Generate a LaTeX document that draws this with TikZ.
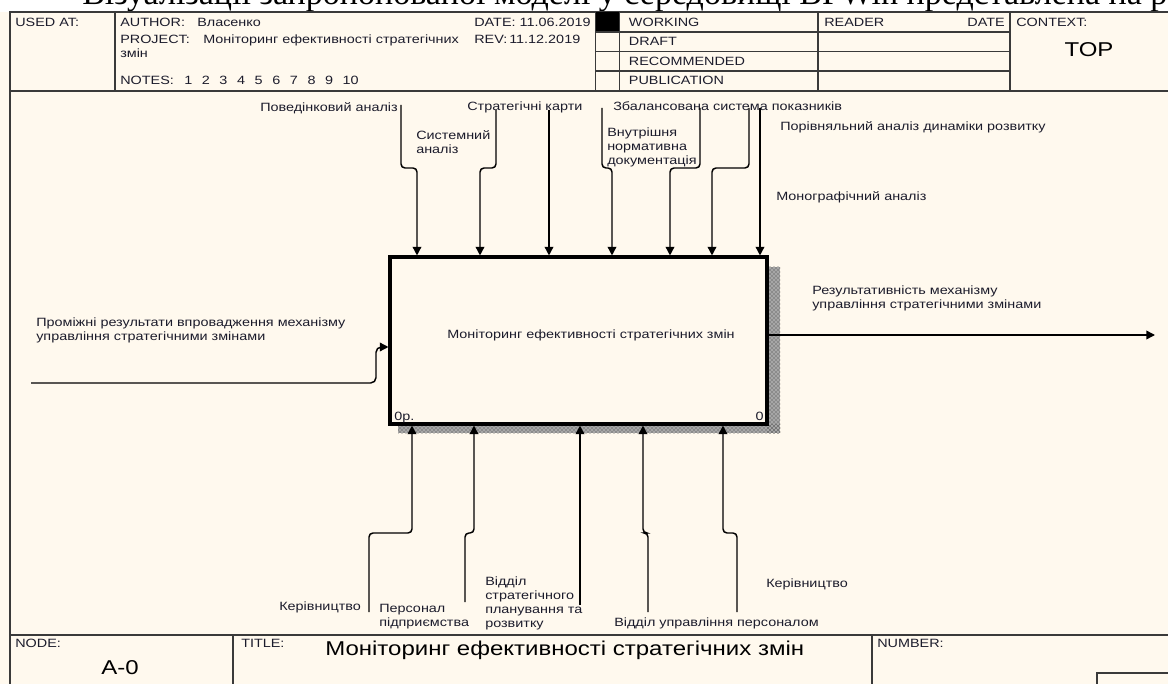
\documentclass[tikz,border=0pt]{standalone}
\usepackage{fontspec}
\setmainfont{Liberation Sans}
\newfontfamily\lbl[FakeStretch=1.2]{Liberation Sans}
\newfontfamily\docserif{Liberation Serif}
\usetikzlibrary{arrows.meta,patterns}
\definecolor{bgc}{HTML}{FFF9EE}
\definecolor{framec}{HTML}{3A3A3A}
\definecolor{inkc}{HTML}{1C1C2C}
\newcommand\numgap{\hspace{7.2pt}}
\begin{document}
\begin{tikzpicture}[x=0.75pt,y=-0.75pt,
  lab/.style={font=\lbl\fontsize{9}{10.5}\selectfont, text=inkc, inner sep=0pt, align=left},
  hdr/.style={font=\lbl\fontsize{9}{10.5}\selectfont, text=inkc, inner sep=0pt, anchor=base west},
  big/.style={font=\lbl\fontsize{15}{18}\selectfont, text=black, inner sep=0pt},
  frameline/.style={draw=framec, line width=1.2pt},
  arr/.style={draw=black, line width=1.1pt, rounded corners=3pt, -{Triangle[length=6.5pt,width=6.5pt]}},
  procbox/.style={draw=black, line width=2.3pt, fill=bgc, minimum width=282.75pt, minimum height=125.25pt, inner sep=0pt},
  shadowbase/.style={fill=black!35},
  shadowfill/.style={pattern=crosshatch dots, pattern color=black!80}
]
\useasboundingbox (0,0) rectangle (1168,684);
\fill[white] (0,0) rectangle (1168,12);
\fill[bgc] (0,12) rectangle (1168,684);
% cut-off document line above the diagram
\begin{scope}
  \clip (0,0) rectangle (1168,11);
  \node[anchor=base west, inner sep=0pt, font=\docserif\fontsize{25.5}{30}\selectfont] (doctext) at (82,5) {Візуалізації запропонованої моделі у середовищі BPWin представлена на р};
\end{scope}

% ---------- frame ----------
\draw[frameline] (1168,12) -- (10,12) -- (10,684);
\draw[frameline] (10,91) -- (1168,91);
\draw[frameline] (115,12) -- (115,91);
\draw[frameline] (595.5,12) -- (595.5,91);
\fill[black] (595.5,12) rectangle (619.5,32);
\draw[frameline] (619.5,12) -- (619.5,91);
\draw[frameline] (818,12) -- (818,91);
\draw[frameline] (1010,12) -- (1010,91);
\foreach \yy in {32,51.5,71} \draw[frameline] (595.5,\yy) -- (1010,\yy);
\draw[frameline] (10,635) -- (1168,635);
\draw[frameline] (233,635) -- (233,684);
\draw[frameline] (872,635) -- (872,684);
\draw[frameline] (1097,684) -- (1097,673) -- (1168,673);

% ---------- header texts ----------
\node[hdr] (usedat) at (15,27) {USED AT:};
\node[hdr] (author) at (120,27) {AUTHOR:};
\node[hdr] (authorv) at (197,27) {Власенко};
\node[hdr] (project) at (120,43.6) {PROJECT:};
\node[hdr] (projectv) at (203,43.6) {Моніторинг ефективності стратегічних};
\node[hdr] (projectv2) at (120,57.6) {змін};
\node[hdr] (notes) at (120,84.3) {NOTES:};
\node[hdr] (notesv) at (184,84.3) {1\numgap 2\numgap 3\numgap 4\numgap 5\numgap 6\numgap 7\numgap 8\numgap 9\numgap 10};
\node[hdr] (date) at (474,27) {DATE: 11.06.2019};
\node[hdr] (rev) at (474,43.6) {REV:};
\node[hdr] (revv) at (509,43.6) {11.12.2019};
\node[hdr] (working) at (628.7,27) {WORKING};
\node[hdr] (draft) at (628.7,46) {DRAFT};
\node[hdr] (recommended) at (628.7,65.3) {RECOMMENDED};
\node[hdr] (publication) at (628.7,84.3) {PUBLICATION};
\node[hdr] (reader) at (824,27) {READER};
\node[hdr, anchor=base east] (rdate) at (1005,27) {DATE};
\node[hdr] (context) at (1016,27) {CONTEXT:};
\node[big] (top) at (1089,50) {TOP};

% ---------- footer texts ----------
\node[hdr] (nodelbl) at (15,647) {NODE:};
\node[big] (nodeval) at (120,668) {A-0};
\node[hdr] (titlelbl) at (241,647) {TITLE:};
\node[big, anchor=base west] (titleval) at (325,655) {Моніторинг ефективності стратегічних змін};
\node[hdr] (numberlbl) at (877,647) {NUMBER:};

% ---------- activity box ----------
\fill[shadowbase] (767,267) rectangle (780,433);
\fill[shadowbase] (398,424) rectangle (780,433);
\fill[shadowfill] (767,267) rectangle (780,433);
\fill[shadowfill] (398,424) rectangle (780,433);
\node[procbox] (proc) at (578.5,340.5) {};
\node[lab, anchor=center] (proclbl) at (591,335) {Моніторинг ефективності стратегічних змін};
\node[lab, anchor=base west] (procnum) at (394,421) {0р.};
\node[lab, anchor=base east] (procid) at (764,421) {0};

% ---------- controls (top) ----------
\node[lab, anchor=base west] (c1) at (260,112) {Поведінковий аналіз};
\node[lab, anchor=north west] (c2) at (416,130.6) {Системний\\аналіз};
\node[lab, anchor=base west] (c3) at (467,111) {Стратегічні карти};
\node[lab, anchor=north west] (c4) at (607,127.6) {Внутрішня\\нормативна\\документація};
\node[lab, anchor=base west] (c5) at (613,111) {Збалансована система показників};
\node[lab, anchor=base west] (c6) at (780,131) {Порівняльний аналіз динаміки розвитку};
\node[lab, anchor=base west] (c7) at (776,201) {Монографічний аналіз};

\foreach \n/\xa/\ya/\xb in {1/401/105/417, 2/496/110/480, 4/602/108/612, 5/700/108/670, 6/749/108/712} {
  \coordinate (t\n) at (\xa,\ya);
  \coordinate (j\n) at (\xb,168);
  \draw[arr] (t\n) |- (j\n) -- (j\n |- proc.north);
}
\foreach \n/\xa/\ya in {3/549/110, 7/760/108} {
  \coordinate (t\n) at (\xa,\ya);
  \draw[arr] (t\n) -- (t\n |- proc.north);
}

% ---------- input ----------
\node[lab, anchor=north west] (inlbl) at (36,317.3) {Проміжні результати впровадження механізму\\управління стратегічними змінами};
\coordinate (in0) at (31,383);
\coordinate (inj) at (376,347);
\draw[arr, rounded corners=4pt] (in0) -| (inj) -- (inj -| proc.west);

% ---------- output ----------
\node[lab, anchor=north west] (outlbl) at (812,285.6) {Результативність механізму\\управління стратегічними змінами};
\coordinate (out1) at (1155,335);
\draw[arr] (out1 -| proc.east) -- (out1);

% ---------- mechanisms (bottom) ----------
\node[lab, anchor=base west] (m1) at (279,610) {Керівництво};
\node[lab, anchor=north west] (m2) at (379,603.6) {Персонал\\підприємства};
\node[lab, anchor=north west] (m3) at (485,576.3) {Відділ\\стратегічного\\планування та\\розвитку};
\node[lab, anchor=base west] (m4) at (614,626) {Відділ управління персоналом};
\node[lab, anchor=base west] (m5) at (766,587) {Керівництво};

\foreach \n/\xa/\ya/\xb in {1/369/612/412, 2/465/602/474, 4/648/612/643, 5/737/612/723} {
  \coordinate (b\n) at (\xa,\ya);
  \coordinate (k\n) at (\xb,533);
  \draw[arr] (b\n) |- (k\n) -- (k\n |- proc.south);
}
\coordinate (b3) at (580,605);
\draw[arr] (b3) -- (b3 |- proc.south);
\end{tikzpicture}
\end{document}
